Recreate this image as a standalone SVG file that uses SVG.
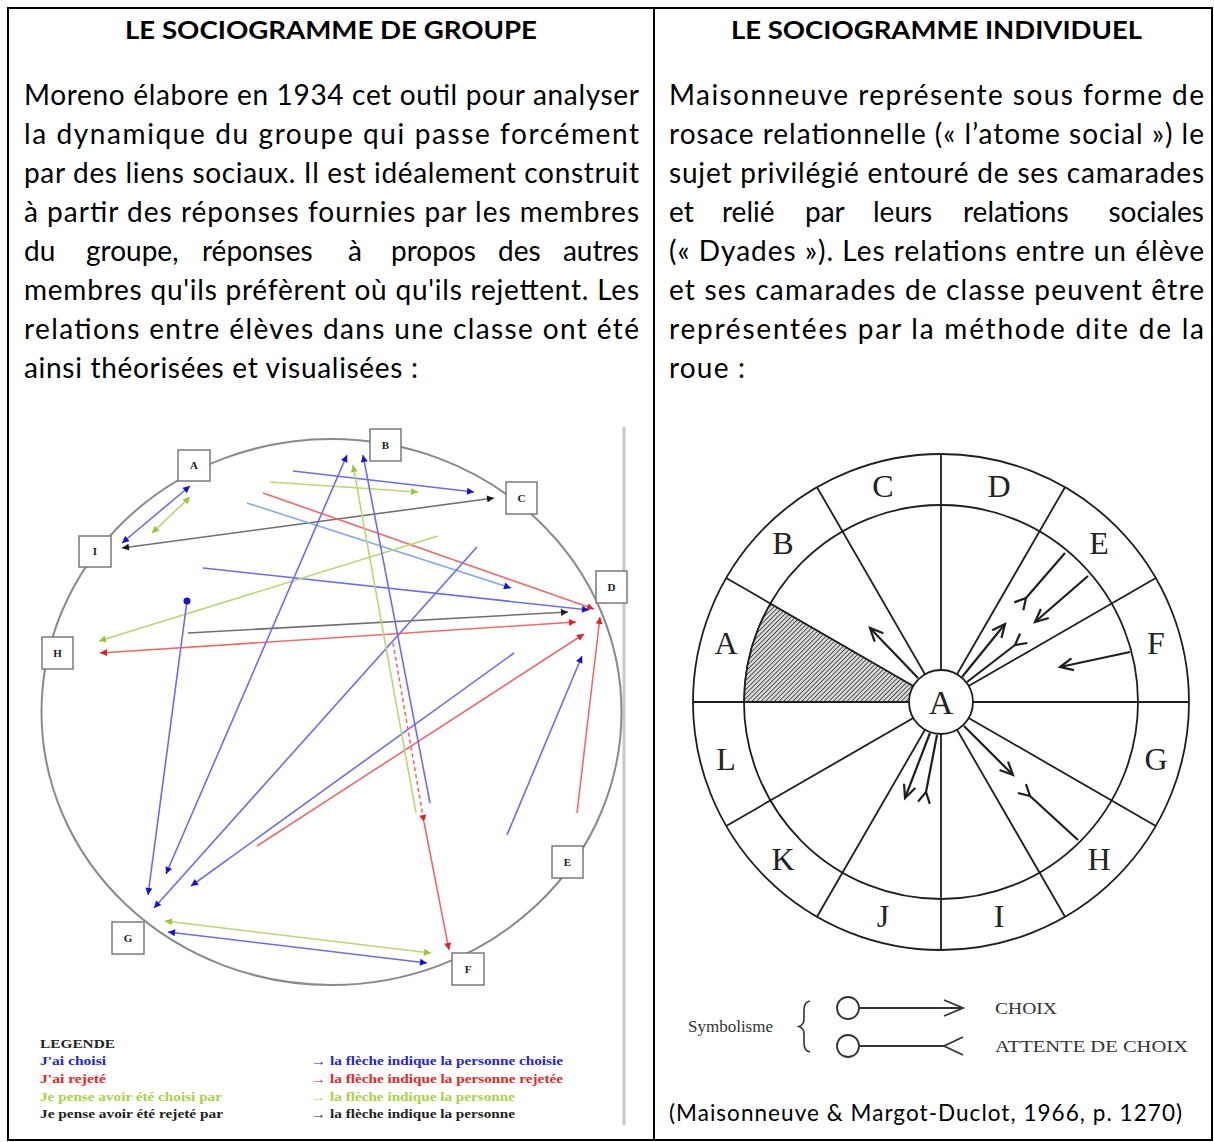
<svg xmlns="http://www.w3.org/2000/svg" width="1214" height="1142" viewBox="0 0 1214 1142">
<style>
.hdr{font-family:Lato,"Open Sans",sans-serif;font-weight:bold;font-size:25px;fill:#000}
.body{font-family:Lato,"Open Sans",sans-serif;font-size:28px;fill:#000}
.cit{font-family:Lato,"Open Sans",sans-serif;font-size:22.5px;fill:#000}
.leg{font-family:"Liberation Serif",serif;font-weight:bold;font-size:12px}
.node rect{fill:#fff;stroke:#7a7a7a;stroke-width:1.5}
.node text{font-family:"Liberation Serif",serif;font-weight:bold;font-size:11px;text-anchor:middle;fill:#222}
.wl{font-family:"Liberation Serif",serif;font-size:32px;fill:#222;text-anchor:middle}
.sym{font-family:"Liberation Serif",serif;font-size:17px;fill:#333}
.b{stroke:#6c6cf0;stroke-width:1.6;fill:none}
.lb{stroke:#86a8f2;stroke-width:1.6;fill:none}
.r{stroke:#f06a6a;stroke-width:1.6;fill:none}
.g{stroke:#b8d870;stroke-width:1.6;fill:none}
.k{stroke:#707070;stroke-width:1.6;fill:none}
.w{stroke:#1e1e1e;stroke-width:1.8;fill:none}
.wa{stroke:#1e1e1e;stroke-width:2.2;fill:none}
</style>
<defs>
<marker id="mb" viewBox="0 0 10 10" refX="10" refY="5" markerWidth="8" markerHeight="7" markerUnits="userSpaceOnUse" orient="auto-start-reverse"><path d="M0,0 L10,5 L0,10 z" fill="#1414d8"/></marker>
<marker id="mr" viewBox="0 0 10 10" refX="10" refY="5" markerWidth="8" markerHeight="7" markerUnits="userSpaceOnUse" orient="auto-start-reverse"><path d="M0,0 L10,5 L0,10 z" fill="#e42020"/></marker>
<marker id="mg" viewBox="0 0 10 10" refX="10" refY="5" markerWidth="8" markerHeight="7" markerUnits="userSpaceOnUse" orient="auto-start-reverse"><path d="M0,0 L10,5 L0,10 z" fill="#98c838"/></marker>
<marker id="mk" viewBox="0 0 10 10" refX="10" refY="5" markerWidth="8" markerHeight="7" markerUnits="userSpaceOnUse" orient="auto-start-reverse"><path d="M0,0 L10,5 L0,10 z" fill="#1a1a1a"/></marker>
<marker id="av" viewBox="-16 -8 32 16" refX="0" refY="0" markerWidth="32" markerHeight="16" markerUnits="userSpaceOnUse" orient="auto"><path d="M-13,-6 L0,0 L-13,6" fill="none" stroke="#1e1e1e" stroke-width="2.2"/></marker>
<marker id="fk" viewBox="-16 -8 32 16" refX="0" refY="0" markerWidth="32" markerHeight="16" markerUnits="userSpaceOnUse" orient="auto"><path d="M11,-6 L0,0 L11,6" fill="none" stroke="#1e1e1e" stroke-width="2.2"/></marker>
<marker id="avL" viewBox="-22 -11 44 22" refX="0" refY="0" markerWidth="44" markerHeight="22" markerUnits="userSpaceOnUse" orient="auto"><path d="M-19,-8 L0,0 L-19,8" fill="none" stroke="#333" stroke-width="1.8"/></marker>
<marker id="fkL" viewBox="-22 -11 44 22" refX="0" refY="0" markerWidth="44" markerHeight="22" markerUnits="userSpaceOnUse" orient="auto"><path d="M19,-9 L0,0 L19,9" fill="none" stroke="#333" stroke-width="1.8"/></marker>
<pattern id="hatch" width="3.2" height="3.2" patternUnits="userSpaceOnUse" patternTransform="rotate(45)"><rect width="3.2" height="3.2" fill="#d8d8d8"/><line x1="0" y1="0" x2="0" y2="3.2" stroke="#3a3a3a" stroke-width="1.6"/></pattern>
</defs>
<rect width="1214" height="1142" fill="#fff"/>

<g id="table">
<rect x="8" y="8" width="1204" height="1132" fill="none" stroke="#000" stroke-width="2"/>
<line x1="654" y1="8" x2="654" y2="1140" stroke="#000" stroke-width="2"/>
</g>

<g id="left-text">
<text class="hdr" x="125" y="39" textLength="412" lengthAdjust="spacingAndGlyphs">LE SOCIOGRAMME DE GROUPE</text>
<text class="body" x="24" y="105" textLength="615" lengthAdjust="spacing">Moreno élabore en 1934 cet outil pour analyser</text>
<text class="body" x="24" y="144" textLength="615" lengthAdjust="spacing">la dynamique du groupe qui passe forcément</text>
<text class="body" x="24" y="183" textLength="615" lengthAdjust="spacing">par des liens sociaux. Il est idéalement construit</text>
<text class="body" x="24" y="222" textLength="615" lengthAdjust="spacing">à partir des réponses fournies par les membres</text>
<text class="body" y="261"><tspan x="24">du</tspan><tspan x="86">groupe,</tspan><tspan x="202">réponses</tspan><tspan x="348">à</tspan><tspan x="391">propos</tspan><tspan x="498">des</tspan><tspan x="639" text-anchor="end">autres</tspan></text>
<text class="body" x="24" y="300" textLength="615" lengthAdjust="spacing">membres qu'ils préfèrent où qu'ils rejettent. Les</text>
<text class="body" x="24" y="339" textLength="615" lengthAdjust="spacing">relations entre élèves dans une classe ont été</text>
<text class="body" x="24" y="378" textLength="394" lengthAdjust="spacing">ainsi théorisées et visualisées :</text>
</g>

<g id="right-text">
<text class="hdr" x="731" y="39" textLength="411" lengthAdjust="spacingAndGlyphs">LE SOCIOGRAMME INDIVIDUEL</text>
<text class="body" x="669" y="105" textLength="535" lengthAdjust="spacing">Maisonneuve représente sous forme de</text>
<text class="body" x="669" y="144" textLength="535" lengthAdjust="spacing">rosace relationnelle (« l’atome social ») le</text>
<text class="body" x="669" y="183" textLength="535" lengthAdjust="spacing">sujet privilégié entouré de ses camarades</text>
<text class="body" y="222"><tspan x="669">et</tspan><tspan x="722">relié</tspan><tspan x="805">par</tspan><tspan x="873">leurs</tspan><tspan x="963">relations</tspan><tspan x="1204" text-anchor="end">sociales</tspan></text>
<text class="body" x="669" y="261" textLength="535" lengthAdjust="spacing">(« Dyades »). Les relations entre un élève</text>
<text class="body" x="669" y="300" textLength="535" lengthAdjust="spacing">et ses camarades de classe peuvent être</text>
<text class="body" x="669" y="339" textLength="535" lengthAdjust="spacing">représentées par la méthode dite de la</text>
<text class="body" x="669" y="378" textLength="76" lengthAdjust="spacing">roue :</text>
<text class="cit" x="669" y="1121" textLength="513" lengthAdjust="spacing">(Maisonneuve &amp; Margot-Duclot, 1966, p. 1270)</text>
</g>

<g id="sociogram-frame">
<line x1="624" y1="427" x2="624" y2="1125" stroke="#c8c8c8" stroke-width="3"/>
<ellipse cx="331.5" cy="712" rx="290" ry="273" fill="none" stroke="#8a8a8a" stroke-width="2"/>
</g>

<g id="connectors">
<line class="b" x1="122" y1="543" x2="190" y2="486" marker-start="url(#mb)" marker-end="url(#mb)"/>
<line class="g" x1="152" y1="533" x2="190" y2="497" marker-start="url(#mg)" marker-end="url(#mg)"/>
<line class="k" x1="122" y1="548" x2="494" y2="498" marker-start="url(#mk)" marker-end="url(#mk)"/>
<line class="b" x1="293" y1="471" x2="474" y2="492" marker-end="url(#mb)"/>
<line class="g" x1="270" y1="482" x2="418" y2="492" marker-end="url(#mg)"/>
<line class="r" x1="263" y1="493" x2="594" y2="609" marker-end="url(#mr)"/>
<line class="lb" x1="247" y1="503" x2="511" y2="588" marker-end="url(#mb)"/>
<line class="b" x1="203" y1="568" x2="589" y2="610" marker-end="url(#mb)"/>
<line class="g" x1="438" y1="536" x2="99" y2="641" marker-end="url(#mg)"/>
<line class="k" x1="188" y1="633" x2="568" y2="612" marker-end="url(#mk)"/>
<line class="r" x1="100" y1="653" x2="576" y2="622" marker-start="url(#mr)" marker-end="url(#mr)"/>
<line class="r" x1="577" y1="813" x2="600" y2="617" marker-end="url(#mr)"/>
<line class="b" x1="507" y1="835" x2="582" y2="656" marker-end="url(#mb)"/>
<line class="r" x1="257" y1="846" x2="584" y2="634" marker-end="url(#mr)"/>
<line class="b" x1="187" y1="601" x2="148" y2="895" marker-end="url(#mb)"/>
<circle cx="187" cy="601" r="3.5" fill="#1414d8"/>
<line class="b" x1="166" y1="874" x2="347" y2="455" marker-start="url(#mb)" marker-end="url(#mb)"/>
<line class="b" x1="430" y1="803" x2="363" y2="455" marker-end="url(#mb)"/>
<line class="b" x1="477" y1="547" x2="154" y2="908" marker-end="url(#mb)"/>
<line class="b" x1="514" y1="653" x2="191" y2="886" marker-end="url(#mb)"/>
<line class="g" x1="416" y1="813" x2="353" y2="465" marker-end="url(#mg)"/>
<line class="r" x1="393" y1="643" x2="424" y2="822" stroke-dasharray="4 3" marker-end="url(#mr)"/>
<line class="r" x1="424" y1="822" x2="449" y2="950" marker-end="url(#mr)"/>
<line class="g" x1="165" y1="921" x2="431" y2="953" marker-start="url(#mg)" marker-end="url(#mg)"/>
<line class="b" x1="168" y1="932" x2="427" y2="963" marker-start="url(#mb)" marker-end="url(#mb)"/>
</g>

<g id="node-A" class="node"><rect x="178" y="450" width="32" height="31"/><text x="194" y="469">A</text></g>
<g id="node-B" class="node"><rect x="370" y="429" width="31" height="32"/><text x="385.5" y="449">B</text></g>
<g id="node-C" class="node"><rect x="506" y="482" width="31" height="32"/><text x="521.5" y="502">C</text></g>
<g id="node-D" class="node"><rect x="596" y="571" width="31" height="32"/><text x="611.5" y="591">D</text></g>
<g id="node-E" class="node"><rect x="552" y="846" width="31" height="32"/><text x="567.5" y="866">E</text></g>
<g id="node-F" class="node"><rect x="452" y="953" width="32" height="32"/><text x="468" y="973">F</text></g>
<g id="node-G" class="node"><rect x="112" y="922" width="32" height="32"/><text x="128" y="942">G</text></g>
<g id="node-H" class="node"><rect x="42" y="637" width="31" height="32"/><text x="57.5" y="657">H</text></g>
<g id="node-I" class="node"><rect x="79" y="536" width="32" height="31"/><text x="95" y="555">I</text></g>

<g id="legend-group">
<text class="leg" x="40" y="1048" fill="#222" textLength="75" lengthAdjust="spacingAndGlyphs">LEGENDE</text>
<text class="leg" x="40" y="1065" fill="#2424e6" textLength="66" lengthAdjust="spacingAndGlyphs">J'ai choisi</text>
<text class="leg" x="40" y="1083" fill="#ee2424" textLength="66" lengthAdjust="spacingAndGlyphs">J'ai rejeté</text>
<text class="leg" x="40" y="1101" fill="#a6d444" textLength="182" lengthAdjust="spacingAndGlyphs">Je pense avoir été choisi par</text>
<text class="leg" x="40" y="1118" fill="#222" textLength="183" lengthAdjust="spacingAndGlyphs">Je pense avoir été rejeté par</text>
<text class="leg" x="311" y="1065" fill="#2424e6" textLength="252" lengthAdjust="spacingAndGlyphs">→ la flèche indique la personne choisie</text>
<text class="leg" x="311" y="1083" fill="#ee2424" textLength="252" lengthAdjust="spacingAndGlyphs">→ la flèche indique la personne rejetée</text>
<text class="leg" x="311" y="1101" fill="#a6d444" textLength="204" lengthAdjust="spacingAndGlyphs">→ la flèche indique la personne</text>
<text class="leg" x="311" y="1118" fill="#222" textLength="204" lengthAdjust="spacingAndGlyphs">→ la flèche indique la personne</text>
</g>

<g id="wheel">
<path d="M941,702 L770.4,603.5 A197,197 0 0 0 744,702 Z" fill="url(#hatch)" stroke="#333" stroke-width="1.2"/>
<circle class="w" cx="941" cy="702" r="248"/>
<circle class="w" cx="941" cy="702" r="197"/>
<line class="w" x1="693" y1="702" x2="1189" y2="702"/>
<line class="w" x1="941" y1="454" x2="941" y2="950"/>
<line class="w" x1="1155.8" y1="578" x2="726.2" y2="826"/>
<line class="w" x1="726.2" y1="578" x2="1155.8" y2="826"/>
<line class="w" x1="1065" y1="487.2" x2="817" y2="916.8"/>
<line class="w" x1="817" y1="487.2" x2="1065" y2="916.8"/>
<text class="wl" x="883" y="497">C</text>
<text class="wl" x="999" y="497">D</text>
<text class="wl" x="1099" y="554">E</text>
<text class="wl" x="1156" y="654">F</text>
<text class="wl" x="1156" y="770">G</text>
<text class="wl" x="1099" y="870">H</text>
<text class="wl" x="999" y="927">I</text>
<text class="wl" x="883" y="927">J</text>
<text class="wl" x="783" y="870">K</text>
<text class="wl" x="726" y="770">L</text>
<text class="wl" x="726" y="654">A</text>
<text class="wl" x="783" y="554">B</text>
</g>

<g id="wheel-links">
<line class="wa" x1="918" y1="678" x2="870" y2="628" marker-end="url(#av)"/>
<line class="wa" x1="962" y1="677" x2="1005" y2="624" marker-end="url(#av)"/>
<line class="wa" x1="967" y1="682" x2="1015" y2="645" marker-end="url(#fk)"/>
<line class="wa" x1="1065" y1="553" x2="1026" y2="598" marker-end="url(#fk)"/>
<line class="wa" x1="1088" y1="576" x2="1035" y2="622" marker-end="url(#av)"/>
<line class="wa" x1="1130" y1="652" x2="1060" y2="667" marker-end="url(#av)"/>
<line class="wa" x1="930" y1="733" x2="905" y2="798" marker-end="url(#av)"/>
<line class="wa" x1="937" y1="735" x2="926" y2="792" marker-end="url(#fk)"/>
<line class="wa" x1="964" y1="726" x2="1013" y2="775" marker-end="url(#av)"/>
<line class="wa" x1="1078" y1="840" x2="1030" y2="796" marker-end="url(#fk)"/>
</g>

<g id="wheel-center">
<circle cx="941" cy="702" r="32" fill="#fff" stroke="#1e1e1e" stroke-width="1.8"/>
<text class="wl" x="941" y="714" style="font-size:34px">A</text>
</g>

<g id="symbolism">
<text class="sym" x="688" y="1032">Symbolisme</text>
<path d="M810,1001 Q804,1002 804,1010 L804,1019 Q804,1025 799,1026.5 Q804,1028 804,1034 L804,1043 Q804,1051 810,1052" fill="none" stroke="#333" stroke-width="1.6"/>
<circle cx="848" cy="1008" r="11" fill="#fff" stroke="#333" stroke-width="1.8"/>
<line x1="859" y1="1008" x2="963" y2="1008" stroke="#333" stroke-width="1.8" marker-end="url(#avL)"/>
<circle cx="848" cy="1046" r="11" fill="#fff" stroke="#333" stroke-width="1.8"/>
<line x1="859" y1="1046" x2="944" y2="1046" stroke="#333" stroke-width="1.8" marker-end="url(#fkL)"/>
<text class="sym" x="995" y="1014" textLength="62" lengthAdjust="spacingAndGlyphs">CHOIX</text>
<text class="sym" x="995" y="1052" textLength="193" lengthAdjust="spacingAndGlyphs">ATTENTE DE CHOIX</text>
</g>
</svg>
